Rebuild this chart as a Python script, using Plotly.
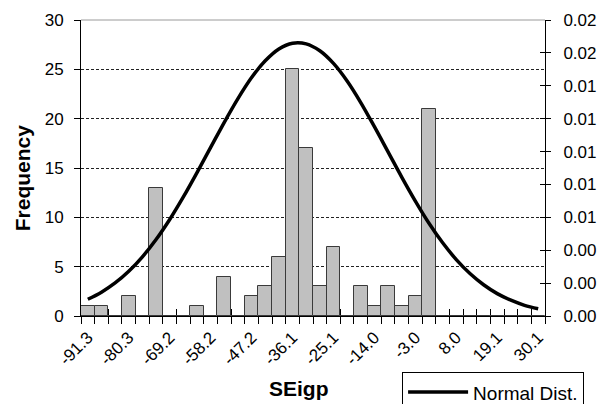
import plotly.graph_objects as go

# ---- data ----
bin_counts = [1, 1, 0, 2, 0, 13, 0, 0, 1, 0, 4, 0, 2, 3, 6, 25, 17, 3, 7, 0,
              3, 1, 3, 1, 2, 21, 0, 0, 0, 0, 0, 0, 0, 0]
normal_pdf = [0.00102, 0.00145, 0.00201, 0.00272, 0.00360, 0.00465, 0.00587,
              0.00724, 0.00872, 0.01025, 0.01178, 0.01322, 0.01450, 0.01552,
              0.01624, 0.01659, 0.01655, 0.01613, 0.01536, 0.01429, 0.01298,
              0.01151, 0.00998, 0.00845, 0.00699, 0.00564, 0.00445, 0.00343,
              0.00258, 0.00190, 0.00136, 0.00096, 0.00065, 0.00044]
tick_labels = ["-91.3", "-80.3", "-69.2", "-58.2", "-47.2", "-36.1",
               "-25.1", "-14.0", "-3.0", "8.0", "19.1", "30.1"]
label_step = 3
right_ticks = [0.000, 0.002, 0.004, 0.006, 0.008, 0.010, 0.012, 0.014, 0.016, 0.018]
right_tick_labels = ["0.00", "0.00", "0.00", "0.01", "0.01", "0.01", "0.01",
                     "0.01", "0.02", "0.02"]

n = len(bin_counts)
xs = list(range(n))
boundaries = [k - 0.5 for k in range(n + 1)]
label_pos = [i * label_step for i in range(len(tick_labels))]

FONT = "Liberation Sans, Arial, sans-serif"

fig = go.Figure()
fig.add_trace(go.Bar(x=xs, y=bin_counts, width=1.0,
                     marker=dict(color="#c0c0c0", line=dict(color="#3a3a3a", width=1)),
                     showlegend=False, hoverinfo="skip"))
fig.add_trace(go.Scatter(x=xs, y=normal_pdf, yaxis="y2", mode="lines",
                         line=dict(color="black", width=3.5, shape="spline"),
                         name="Normal Dist."))
# helper traces so extra tick axes are drawn
fig.add_trace(go.Scatter(x=[0], y=[0], xaxis="x3", yaxis="y", mode="none",
                         showlegend=False, hoverinfo="skip"))
fig.add_trace(go.Scatter(x=[0], y=[0], xaxis="x4", yaxis="y", mode="none",
                         showlegend=False, hoverinfo="skip"))
fig.add_trace(go.Scatter(x=[0], y=[0], xaxis="x", yaxis="y3", mode="none",
                         showlegend=False, hoverinfo="skip"))

xr = [-0.5, n - 0.5]
fig.update_layout(
    width=598, height=404,
    margin=dict(l=81, r=53, t=20, b=88, autoexpand=False),
    paper_bgcolor="white", plot_bgcolor="white",
    font=dict(family=FONT, size=17, color="black"),
    bargap=0,
    xaxis=dict(range=xr, tickmode="array", tickvals=label_pos, ticktext=tick_labels,
               tickangle=-45, ticks="", showline=True, linecolor="black", linewidth=1,
               showgrid=False, zeroline=False, tickfont=dict(size=17),
               automargin=False, ticklabelstandoff=4),
    xaxis3=dict(overlaying="x", anchor="y", range=xr, tickmode="array",
                tickvals=boundaries, ticks="outside", ticklen=7, tickcolor="black",
                showticklabels=False, showgrid=False, zeroline=False, showline=False),
    xaxis4=dict(overlaying="x", anchor="y", range=xr, tickmode="array",
                tickvals=boundaries, ticks="inside", ticklen=7, tickcolor="black",
                showticklabels=False, showgrid=False, zeroline=False, showline=False,
                layer="below traces"),
    yaxis=dict(range=[0, 30], tickmode="linear", tick0=0, dtick=5,
               ticks="outside", ticklen=6, tickcolor="black",
               showline=True, linecolor="black", linewidth=1,
               showgrid=True, gridcolor="#222222", gridwidth=1, griddash="3px,2px",
               zeroline=False, tickfont=dict(size=17), automargin=False,
               ticklabelstandoff=7),
    yaxis2=dict(overlaying="y", side="right", anchor="x", range=[0, 0.018],
                tickmode="array", tickvals=right_ticks, ticktext=right_tick_labels,
                ticks="outside", ticklen=5, tickcolor="black",
                showline=True, linecolor="black", linewidth=1,
                showgrid=False, zeroline=False, tickfont=dict(size=17),
                automargin=False, ticklabelstandoff=9),
    yaxis3=dict(overlaying="y", side="right", anchor="x", range=[0, 0.018],
                tickmode="array", tickvals=right_ticks, ticks="inside", ticklen=5,
                tickcolor="black", showticklabels=False, showline=False,
                showgrid=False, zeroline=False),
    legend=dict(x=0.692, y=-0.19, xanchor="left", yanchor="top",
                bordercolor="black", borderwidth=1, bgcolor="white",
                font=dict(size=19), itemwidth=60),
    shapes=[dict(type="line", xref="paper", yref="paper", x0=0, x1=1, y0=1, y1=1,
                 line=dict(color="#9a9a9a", width=1))],
    annotations=[
        dict(text="<b>SEigp</b>", xref="paper", yref="paper", x=0.469, y=-0.2466,
             xanchor="center", yanchor="middle", showarrow=False,
             font=dict(size=21)),
        dict(text="<b>Frequency</b>", xref="paper", yref="paper", x=-0.1254, y=0.468,
             xanchor="center", yanchor="middle", showarrow=False, textangle=-90,
             font=dict(size=21)),
    ],
)

fig.write_html("out.html")
